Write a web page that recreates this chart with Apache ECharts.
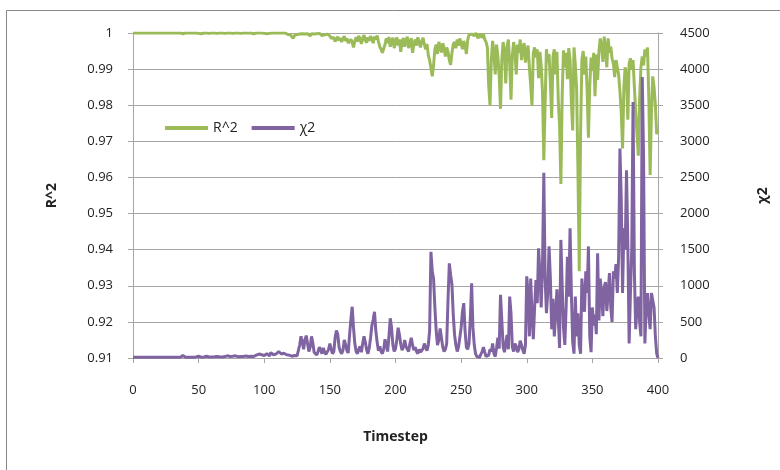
<!DOCTYPE html>
<html>
<head>
<meta charset="utf-8">
<script src="https://cdn.jsdelivr.net/npm/echarts@6/dist/echarts.min.js"></script>
<style>
  html, body { margin: 0; padding: 0; background: #fff; }
  #chart { width: 780px; height: 470px; }
</style>
</head>
<body>
<div id="chart"></div>
<script>
// R^2 per timestep (0..400)
var r2 = [
  1,1,1,1,1,1,1,1,1,1,
  1,1,1,1,1,1,1,1,1,1,
  1,1,1,1,1,1,1,1,1,1,
  1,1,1,1,1,1,1,0.9996,0.9998,1,
  1,1,1,1,1,1,1,1,1,1,
  0.9999,1,0.9998,1,1,0.9998,1,1,0.9999,1,
  1,0.9998,1,1,0.9999,1,1,0.9998,1,1,
  0.9999,1,1,0.9998,1,1,0.9999,1,1,0.9998,
  1,1,0.9999,1,1,0.9998,1,1,1,0.9999,
  1,1,0.9998,1,1,0.9999,1,0.9998,1,1,
  0.9999,1,0.9998,1,0.9999,1,1,0.9998,1,0.9999,
  1,0.9998,1,0.9999,1,0.9997,1,0.9998,0.9996,1,
  0.9995,0.9992,0.9985,0.9993,0.9998,0.9996,1,0.9997,0.9995,0.9998,
  0.9994,0.9997,0.9993,0.9998,0.9995,0.9992,0.9998,0.9994,0.9997,0.9996,
  0.9998,0.9995,0.9999,0.9996,0.9993,0.9998,0.9995,1,0.9997,0.9994,
  0.9992,0.9985,0.998,0.9988,0.9976,0.9983,0.999,0.9979,0.9986,0.9975,
  0.9984,0.9991,0.9978,0.9985,0.9972,0.9968,0.9982,0.9975,0.996,0.9978,
  0.9988,0.9976,0.9992,0.9983,0.997,0.9986,0.9994,0.998,0.9973,0.9988,
  0.9978,0.9991,0.9984,0.9972,0.999,0.9982,0.9993,0.9976,0.9962,0.9955,
  0.9945,0.995,0.9968,0.9985,0.9972,0.9989,0.9962,0.9978,0.9987,0.9958,
  0.9975,0.9988,0.9965,0.9982,0.9948,0.9975,0.9986,0.9962,0.9979,0.999,
  0.9958,0.9972,0.9986,0.9945,0.997,0.9982,0.9965,0.9988,0.9974,0.996,
  0.9978,0.9987,0.9968,0.9955,0.997,0.9938,0.9925,0.9902,0.988,0.991,
  0.9955,0.9968,0.9942,0.9975,0.9962,0.9946,0.9972,0.9958,0.9935,0.996,
  0.9948,0.9925,0.9912,0.9945,0.9968,0.9975,0.9958,0.9982,0.9965,0.9985,
  0.9972,0.9955,0.9978,0.9965,0.9942,0.998,0.9995,1,0.9997,1,
  0.9992,1,0.9996,0.9985,0.9998,0.9993,0.9987,0.9998,0.9982,0.9975,
  0.996,0.9855,0.98,0.9925,0.9978,0.9945,0.9885,0.9968,0.9935,0.9882,
  0.979,0.9925,0.9975,0.9948,0.986,0.9962,0.9982,0.9915,0.9815,0.9935,
  0.9975,0.9952,0.9885,0.9968,0.9945,0.9982,0.9925,0.9958,0.9972,0.9918,
  0.9948,0.9965,0.9905,0.9855,0.9798,0.9945,0.996,0.9932,0.9955,0.9875,
  0.9948,0.991,0.9835,0.9648,0.9805,0.9955,0.9918,0.9942,0.986,0.9765,
  0.9935,0.9955,0.9885,0.9948,0.9815,0.9745,0.9582,0.983,0.9952,0.9905,
  0.9945,0.9872,0.9958,0.9925,0.9808,0.973,0.996,0.9912,0.9845,0.962,
  0.934,0.972,0.9925,0.995,0.9885,0.9935,0.984,0.971,0.9855,0.9932,
  0.9895,0.9945,0.9825,0.994,0.987,0.995,0.9985,0.9965,0.992,0.999,
  0.9955,0.9905,0.9985,0.9945,0.9962,0.993,0.9915,0.9878,0.9925,0.9905,
  0.9885,0.9838,0.978,0.968,0.985,0.9905,0.988,0.976,0.9915,0.993,
  0.99,0.9925,0.985,0.978,0.972,0.966,0.982,0.9905,0.9935,0.991,
  0.9955,0.9935,0.996,0.982,0.9607,0.978,0.988,0.985,0.98,0.972,
  0.973
];

// chi^2 per timestep (0..400)
var chi2 = [
  10,10,10,10,10,10,10,10,10,10,
  10,10,10,10,10,10,10,10,10,10,
  10,10,10,10,10,10,10,10,10,10,
  10,10,10,10,10,10,10,20,35,15,
  10,10,10,12,10,15,12,10,15,12,
  25,15,12,20,15,12,25,18,15,20,
  15,28,18,15,22,30,18,25,15,35,
  20,25,30,18,22,40,25,20,30,22,
  18,25,20,35,22,18,28,25,20,30,
  25,35,22,30,40,28,55,80,45,30,
  35,25,60,40,30,75,50,45,70,55,
  60,90,70,55,80,65,75,45,50,40,
  30,25,40,35,25,30,50,180,300,220,
  120,250,310,200,90,150,300,210,80,60,
  40,90,150,110,60,140,80,50,70,120,
  200,120,60,90,280,380,330,150,90,60,
  110,250,180,100,70,320,530,710,420,200,
  90,60,120,160,80,200,300,220,110,60,
  140,280,450,530,640,380,220,100,160,90,
  60,120,260,180,90,300,550,420,180,90,
  130,250,420,320,190,110,150,250,160,120,
  90,200,280,180,110,150,90,60,120,80,
  60,130,200,150,100,180,380,1470,1200,1100,
  700,380,180,250,410,280,150,90,120,200,
  800,1310,1150,1020,600,320,180,90,150,280,
  420,640,760,380,150,120,200,550,1035,420,
  180,60,20,40,10,30,90,150,80,20,
  10,40,120,90,200,60,20,140,280,130,
  875,520,160,80,200,320,120,850,620,150,
  90,200,160,80,120,240,180,110,60,180,
  1130,900,300,1100,600,260,700,1080,760,1520,
  1180,700,1300,2565,1100,620,900,1545,1100,400,
  820,300,600,950,550,140,1635,1000,420,180,
  700,1400,850,1796,900,220,60,850,300,620,
  180,60,1100,820,640,1200,900,1545,300,80,
  700,450,600,330,1450,520,1100,900,580,980,
  1050,650,900,1175,700,500,1200,1100,1300,900,
  1400,2900,2200,900,1800,1500,2600,1600,200,900,
  1500,3545,1200,400,700,850,500,300,3890,2800,
  200,700,900,600,400,900,880,700,300,60,
  0
];

var timesteps = r2.map(function (v, i) { return i; });

var myChart = echarts.init(document.getElementById("chart"));
var font = "'Open Sans', 'Liberation Sans', sans-serif";
var gridColor = "#a6a6a6";

var option = {
  animation: false,
  textStyle: { fontFamily: font },
  graphic: [
    {
      type: "rect",
      shape: { x: 6.5, y: 10.5, width: 780, height: 480 },
      style: { fill: "none", stroke: "#868686", lineWidth: 1 },
      silent: true,
    },
  ],
  legend: {
    left: 160,
    top: 116,
    itemWidth: 43,
    itemHeight: 4,
    itemGap: 14,
    icon: "rect",
    textStyle: { fontSize: 14, color: "#222", fontFamily: font },
    data: ["R^2", "χ2"],
  },
  grid: {
    left: 133,
    right: 122,
    top: 33,
    bottom: 112,
  },
  xAxis: {
    type: "value",
    min: 0,
    max: 400,
    interval: 50,
    name: "Timestep",
    nameLocation: "middle",
    nameGap: 72,
    nameTextStyle: { fontSize: 14, fontWeight: "bold", color: "#222" },
    axisLine: { lineStyle: { color: gridColor } },
    axisTick: { show: true, length: 5, lineStyle: { color: gridColor } },
    axisLabel: { fontSize: 13, color: "#222", margin: 26 },
    splitLine: { show: false },
  },
  yAxis: [
    {
      type: "value",
      min: 0.91,
      max: 1,
      interval: 0.01,
      name: "R^2",
      nameLocation: "middle",
      nameRotate: 90,
      nameGap: 74,
      nameTextStyle: { fontSize: 14, fontWeight: "bold", color: "#222" },
      axisLine: { show: true, lineStyle: { color: gridColor } },
      axisTick: { show: true, length: 5, lineStyle: { color: gridColor } },
      axisLabel: {
        fontSize: 13,
        color: "#222",
        margin: 20,
        formatter: function (v) { return String(+v.toFixed(2)); },
      },
      splitLine: { show: true, lineStyle: { color: gridColor, width: 1 } },
    },
    {
      type: "value",
      min: 0,
      max: 4500,
      interval: 500,
      name: "χ2",
      nameLocation: "middle",
      nameRotate: 90,
      nameGap: 98,
      nameTextStyle: { fontSize: 14, fontWeight: "bold", color: "#222" },
      axisLine: { show: true, lineStyle: { color: gridColor } },
      axisTick: { show: true, length: 5, lineStyle: { color: gridColor } },
      axisLabel: {
        fontSize: 13,
        color: "#222",
        margin: 22,
        formatter: function (v) { return String(Math.round(v)); },
      },
      splitLine: { show: false },
    },
  ],
  series: [
    {
      name: "R^2",
      type: "line",
      yAxisIndex: 0,
      showSymbol: false,
      symbol: "none",
      data: timesteps.map(function (t) { return [t, r2[t]]; }),
      lineStyle: { color: "#9bbb59", width: 3 },
      itemStyle: { color: "#9bbb59" },
      z: 2,
    },
    {
      name: "χ2",
      type: "line",
      yAxisIndex: 1,
      showSymbol: false,
      symbol: "none",
      data: timesteps.map(function (t) { return [t, chi2[t]]; }),
      lineStyle: { color: "#8064a2", width: 3 },
      itemStyle: { color: "#8064a2" },
      z: 3,
    },
  ],
};

myChart.setOption(option);
</script>
</body>
</html>
